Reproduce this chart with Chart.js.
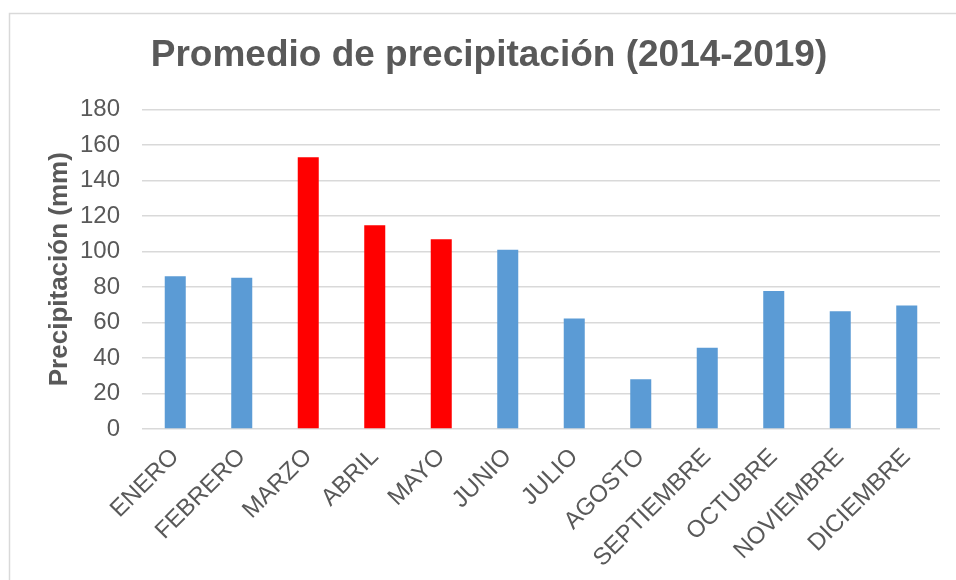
<!DOCTYPE html>
<html>
<head>
<meta charset="utf-8">
<script src="https://cdn.jsdelivr.net/npm/chart.js@4"></script>
<style>
  html, body { margin: 0; padding: 0; background: #fff; }
  #wrap { width: 956px; height: 580px; }
</style>
</head>
<body>
<div id="wrap"><canvas id="grafico" width="956" height="580"></canvas></div>
<script>
// Datos
const meses = ['ENERO', 'FEBRERO', 'MARZO', 'ABRIL', 'MAYO', 'JUNIO', 'JULIO', 'AGOSTO', 'SEPTIEMBRE', 'OCTUBRE', 'NOVIEMBRE', 'DICIEMBRE'];
const precipitacion = [86, 85.2, 153, 114.7, 106.8, 101, 62.2, 28, 45.8, 77.7, 66.3, 69.5];
const mesesDestacados = ['MARZO', 'ABRIL', 'MAYO'];
const ticksY = [0, 20, 40, 60, 80, 100, 120, 140, 160, 180];

const AZUL = '#5B9BD5';
const ROJO = '#FF0000';
const GRIS_TEXTO = '#595959';
const GRIS_LINEA = '#D9D9D9';
const FUENTE = "'Liberation Sans', Arial, sans-serif";

const colores = meses.map(m => mesesDestacados.includes(m) ? ROJO : AZUL);

// Marco gris del área del gráfico (como en Excel)
const marco = {
    id: 'marco',
    beforeDraw(chart) {
        const c = chart.ctx;
        c.save();
        c.strokeStyle = GRIS_LINEA;
        c.lineWidth = 1.5;
        c.beginPath();
        c.moveTo(9.5, chart.height);
        c.lineTo(9.5, 13.5);
        c.lineTo(chart.width, 13.5);
        c.stroke();
        c.restore();
    }
};

const ctx = document.getElementById('grafico').getContext('2d');

new Chart(ctx, {
    type: 'bar',
    data: {
        labels: meses,
        datasets: [{
            data: precipitacion,
            backgroundColor: colores,
            borderWidth: 0,
            barPercentage: 0.316,
            categoryPercentage: 1
        }]
    },
    options: {
        responsive: false,
        animation: false,
        layout: {
            padding: { left: 38, right: 16, top: 0, bottom: 0 }
        },
        plugins: {
            legend: { display: false },
            tooltip: { enabled: false },
            title: {
                display: true,
                text: 'Promedio de precipitación (2014-2019)',
                color: GRIS_TEXTO,
                font: { family: FUENTE, size: 37, weight: 'bold' },
                padding: { top: 34, bottom: 31 }
            }
        },
        scales: {
            x: {
                afterFit(axis) { axis.height = 151; },
                grid: { display: false, drawTicks: false },
                border: { display: false },
                ticks: {
                    color: GRIS_TEXTO,
                    font: { family: FUENTE, size: 24 },
                    minRotation: 45,
                    maxRotation: 45,
                    padding: 14
                }
            },
            y: {
                min: 0,
                max: 180,
                afterFit(axis) { axis.width = 104; },
                afterBuildTicks(axis) {
                    axis.ticks = ticksY.map(v => ({ value: v }));
                },
                grid: { color: GRIS_LINEA, lineWidth: 1.5, drawTicks: false },
                border: { display: false },
                ticks: {
                    color: GRIS_TEXTO,
                    font: { family: FUENTE, size: 24 },
                    padding: 22
                },
                title: {
                    display: true,
                    text: 'Precipitación (mm)',
                    color: GRIS_TEXTO,
                    font: { family: FUENTE, size: 26, weight: 'bold' },
                    padding: { top: 6, bottom: 0 }
                }
            }
        }
    },
    plugins: [marco]
});
</script>
</body>
</html>
